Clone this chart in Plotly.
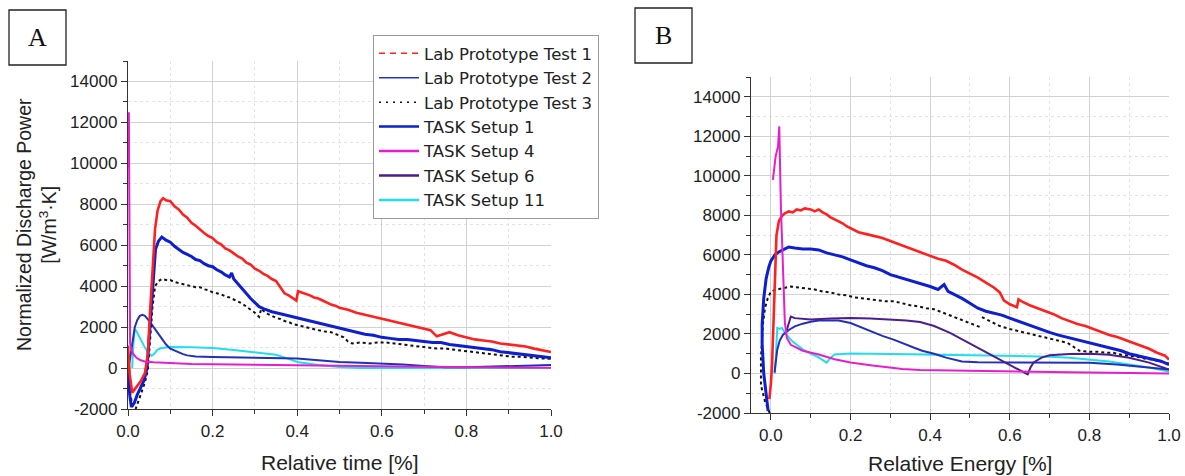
import plotly.graph_objects as go

# ---------------- data ----------------
# Panel A: x = relative time [-], y = normalized discharge power
lab1_time = [(0.0, 1100), (0.004, -300), (0.01, -1200), (0.02, -950), (0.03, -650), (0.04, -250),
             (0.047, 700), (0.052, 2700), (0.058, 5000), (0.064, 6800), (0.07, 7700), (0.077, 8150),
             (0.083, 8300), (0.09, 8200), (0.1, 8150), (0.11, 7900), (0.12, 7750), (0.13, 7500),
             (0.14, 7350), (0.15, 7100), (0.16, 6950), (0.17, 6750), (0.18, 6600), (0.19, 6450),
             (0.2, 6350), (0.21, 6150), (0.22, 6050), (0.23, 5850), (0.24, 5750), (0.25, 5600),
             (0.26, 5450), (0.27, 5350), (0.28, 5150), (0.29, 5050), (0.3, 4850), (0.31, 4750),
             (0.32, 4600), (0.33, 4500), (0.34, 4350), (0.35, 4250), (0.36, 3950), (0.37, 3650),
             (0.38, 3550), (0.39, 3400), (0.398, 3300), (0.402, 3750), (0.41, 3700), (0.42, 3600),
             (0.43, 3550), (0.44, 3450), (0.45, 3400), (0.46, 3300), (0.47, 3200), (0.48, 3100),
             (0.49, 3050), (0.5, 2950), (0.52, 2850), (0.54, 2700), (0.56, 2600), (0.58, 2500),
             (0.6, 2400), (0.62, 2300), (0.64, 2200), (0.66, 2100), (0.68, 2000), (0.7, 1900),
             (0.715, 1850), (0.73, 1550), (0.745, 1650), (0.76, 1750), (0.78, 1600), (0.8, 1500),
             (0.82, 1400), (0.84, 1350), (0.86, 1300), (0.88, 1200), (0.9, 1150), (0.92, 1100),
             (0.94, 1050), (0.96, 950), (0.98, 850), (1.0, 780)]
lab2_time = [(0.0, 0), (0.004, -1300), (0.008, -1900), (0.015, -1700), (0.022, -1300), (0.03, -950),
             (0.038, -600), (0.045, 0), (0.05, 1500), (0.055, 3200), (0.06, 4700), (0.065, 5800),
             (0.072, 6200), (0.08, 6400), (0.09, 6250), (0.1, 6150), (0.11, 5950), (0.12, 5800),
             (0.13, 5650), (0.14, 5550), (0.15, 5450), (0.16, 5300), (0.17, 5250), (0.18, 5100),
             (0.19, 5000), (0.2, 4950), (0.21, 4800), (0.22, 4700), (0.23, 4550), (0.24, 4450),
             (0.245, 4650), (0.25, 4350), (0.26, 4100), (0.27, 3850), (0.28, 3600), (0.29, 3400),
             (0.3, 3200), (0.31, 3000), (0.32, 2900), (0.34, 2750), (0.36, 2650), (0.38, 2550),
             (0.4, 2450), (0.42, 2350), (0.44, 2250), (0.46, 2150), (0.48, 2050), (0.5, 1950),
             (0.52, 1850), (0.54, 1750), (0.56, 1650), (0.58, 1600), (0.6, 1500), (0.62, 1450),
             (0.64, 1400), (0.66, 1400), (0.68, 1350), (0.7, 1300), (0.72, 1250), (0.74, 1250),
             (0.76, 1150), (0.78, 1100), (0.8, 1050), (0.82, 1000), (0.84, 950), (0.86, 900),
             (0.88, 800), (0.9, 750), (0.92, 700), (0.94, 650), (0.96, 600), (0.98, 550), (1.0, 500)]
lab3_time = [(0.0, 0), (0.005, -1200), (0.01, -1800), (0.018, -2000), (0.025, -1600), (0.032, -1200),
             (0.04, -700), (0.047, -100), (0.053, 1500), (0.058, 3000), (0.064, 4000), (0.072, 4250),
             (0.08, 4350), (0.09, 4300), (0.1, 4300), (0.11, 4200), (0.12, 4150), (0.13, 4100),
             (0.14, 4050), (0.15, 4000), (0.16, 3950), (0.17, 3950), (0.18, 3850), (0.19, 3800),
             (0.2, 3700), (0.21, 3650), (0.22, 3600), (0.23, 3500), (0.24, 3450), (0.25, 3350),
             (0.26, 3250), (0.27, 3150), (0.28, 3000), (0.29, 2850), (0.3, 2700), (0.31, 2500),
             (0.315, 2900), (0.32, 2800), (0.33, 2650), (0.34, 2550), (0.35, 2450), (0.36, 2400),
             (0.37, 2300), (0.38, 2250), (0.39, 2150), (0.4, 2100), (0.42, 2000), (0.44, 1900),
             (0.46, 1800), (0.48, 1750), (0.5, 1600), (0.51, 1500), (0.52, 1300), (0.53, 1200),
             (0.55, 1250), (0.57, 1200), (0.59, 1250), (0.61, 1250), (0.63, 1200), (0.65, 1150),
             (0.67, 1100), (0.69, 1050), (0.71, 1000), (0.73, 950), (0.75, 950), (0.77, 900),
             (0.79, 850), (0.81, 800), (0.83, 750), (0.85, 700), (0.87, 650), (0.89, 600),
             (0.91, 550), (0.93, 550), (0.95, 500), (0.97, 480), (1.0, 450)]
task1_time = [(0.0, -200), (0.005, 500), (0.01, 1300), (0.016, 2000), (0.022, 2350), (0.028, 2550),
              (0.034, 2600), (0.04, 2550), (0.05, 2300), (0.06, 2000), (0.07, 1700), (0.08, 1400),
              (0.09, 1150), (0.1, 950), (0.11, 850), (0.12, 760), (0.13, 680), (0.14, 620),
              (0.15, 580), (0.16, 560), (0.2, 540), (0.25, 530), (0.3, 520), (0.35, 500),
              (0.4, 470), (0.45, 380), (0.5, 300), (0.55, 260), (0.6, 230), (0.65, 170),
              (0.7, 100), (0.75, 40), (0.8, 40), (0.85, 60), (0.9, 90), (0.95, 120), (1.0, 150)]
task4_time = [(0.0, 9800), (0.002, 12500), (0.005, 1200), (0.008, 900), (0.012, 700), (0.02, 500),
              (0.03, 380), (0.04, 320), (0.06, 280), (0.1, 230), (0.15, 200), (0.2, 180),
              (0.3, 150), (0.4, 120), (0.5, 100), (0.6, 80), (0.7, 60), (0.8, 40), (0.9, 20), (1.0, 10)]
task11_time = [(0.01, 0), (0.012, 1000), (0.016, 1900), (0.02, 1800), (0.03, 1400), (0.04, 1000),
               (0.05, 700), (0.056, 600), (0.062, 700), (0.07, 900), (0.08, 980), (0.1, 1030),
               (0.15, 1020), (0.2, 980), (0.25, 880), (0.3, 760), (0.35, 650), (0.38, 450),
               (0.4, 300), (0.45, 150), (0.5, 50), (0.55, 0), (0.7, 0), (0.85, 0), (1.0, 0)]

# Panel B: x = relative energy [-]
lab1_energy = [(-0.004, -1300), (0.0, -500), (0.003, 500), (0.006, 2200), (0.01, 4800), (0.014, 7000),
               (0.02, 7700), (0.027, 7950), (0.035, 8100), (0.045, 8200), (0.055, 8150), (0.065, 8300),
               (0.075, 8250), (0.085, 8350), (0.1, 8300), (0.11, 8200), (0.12, 8300), (0.13, 8150),
               (0.14, 8050), (0.15, 7900), (0.16, 7800), (0.17, 7700), (0.18, 7600), (0.19, 7450),
               (0.2, 7350), (0.22, 7150), (0.24, 7050), (0.26, 6950), (0.28, 6850), (0.3, 6700),
               (0.32, 6550), (0.34, 6400), (0.36, 6250), (0.38, 6100), (0.4, 5950), (0.42, 5800),
               (0.44, 5700), (0.46, 5500), (0.48, 5250), (0.5, 5050), (0.52, 4850), (0.54, 4600),
               (0.56, 4350), (0.575, 4100), (0.585, 3700), (0.6, 3500), (0.61, 3400), (0.618, 3350),
               (0.622, 3750), (0.63, 3650), (0.65, 3450), (0.67, 3300), (0.69, 3150), (0.71, 3000),
               (0.73, 2800), (0.75, 2650), (0.77, 2500), (0.79, 2400), (0.81, 2250), (0.83, 2100),
               (0.85, 1950), (0.87, 1850), (0.89, 1700), (0.91, 1550), (0.93, 1400), (0.95, 1250),
               (0.97, 1050), (0.99, 900), (1.0, 700)]
lab2_energy = [(-0.007, -1900), (-0.012, -1000), (-0.018, 0), (-0.022, 1500), (-0.022, 2500),
               (-0.018, 3800), (-0.012, 4800), (-0.005, 5400), (0.0, 5700), (0.01, 6000), (0.02, 6150),
               (0.03, 6250), (0.045, 6400), (0.06, 6350), (0.08, 6300), (0.1, 6300), (0.12, 6250),
               (0.14, 6100), (0.16, 6000), (0.18, 5900), (0.2, 5750), (0.22, 5600), (0.24, 5450),
               (0.26, 5350), (0.28, 5200), (0.3, 5000), (0.32, 4880), (0.34, 4780), (0.36, 4650),
               (0.38, 4550), (0.4, 4400), (0.42, 4250), (0.435, 4500), (0.445, 4150), (0.46, 4000),
               (0.48, 3800), (0.5, 3550), (0.52, 3300), (0.54, 3150), (0.56, 3050), (0.58, 2950),
               (0.6, 2800), (0.62, 2650), (0.64, 2500), (0.66, 2350), (0.68, 2200), (0.7, 2080),
               (0.72, 1950), (0.74, 1850), (0.76, 1750), (0.78, 1650), (0.8, 1570), (0.82, 1450),
               (0.84, 1350), (0.86, 1250), (0.88, 1150), (0.9, 1000), (0.92, 900), (0.94, 820),
               (0.96, 720), (0.98, 620), (1.0, 450)]
lab3_energy = [(-0.003, -2000), (-0.015, -1400), (-0.025, -600), (-0.025, 800), (-0.02, 2500),
               (-0.015, 3300), (-0.008, 3800), (0.0, 4150), (0.015, 4250), (0.03, 4300), (0.05, 4400),
               (0.07, 4350), (0.09, 4300), (0.11, 4250), (0.13, 4150), (0.15, 4100), (0.17, 4000),
               (0.19, 3950), (0.21, 3850), (0.23, 3800), (0.25, 3750), (0.27, 3700), (0.29, 3650),
               (0.31, 3650), (0.33, 3550), (0.35, 3450), (0.37, 3400), (0.39, 3300), (0.41, 3250),
               (0.43, 3100), (0.45, 2950), (0.47, 2800), (0.49, 2650), (0.51, 2500), (0.525, 2350),
               (None, None),
               (0.53, 2850), (0.545, 2700), (0.56, 2550), (0.575, 2400), (0.6, 2250), (0.62, 2150),
               (0.64, 2050), (0.66, 1950), (0.68, 1850), (0.7, 1750), (0.72, 1650), (0.745, 1550),
               (0.76, 1350), (0.775, 1150), (0.8, 1100), (0.82, 1100), (0.84, 1050), (0.86, 1050),
               (0.88, 950), (0.9, 900), (0.92, 850), (0.94, 750), (0.96, 700), (0.98, 600), (1.0, 500)]
task1_energy = [(0.009, 40), (0.012, 700), (0.016, 1200), (0.022, 1650), (0.03, 1950), (0.045, 2200),
                (0.06, 2380), (0.08, 2520), (0.1, 2620), (0.12, 2680), (0.15, 2700), (0.17, 2680),
                (0.2, 2550), (0.23, 2300), (0.25, 2130), (0.28, 1900), (0.31, 1700), (0.335, 1520),
                (0.36, 1300), (0.38, 1150), (0.41, 1000), (0.44, 800), (0.48, 610), (0.52, 570),
                (0.575, 560), (0.65, 560), (0.745, 560), (0.8, 540), (0.87, 460), (0.93, 350), (1.0, 200)]
task4_energy = [(0.005, 9800), (0.012, 11000), (0.018, 11500), (0.021, 12500), (0.025, 8500),
                (0.028, 6500), (0.032, 4000), (0.035, 2600), (0.04, 1800), (0.05, 1450), (0.08, 1150),
                (0.12, 960), (0.16, 720), (0.2, 550), (0.25, 420), (0.29, 310), (0.33, 230),
                (0.375, 180), (0.45, 150), (0.55, 110), (0.65, 80), (0.75, 60), (0.85, 40),
                (0.95, 20), (1.0, 0)]
task6_energy = [(0.04, 2200), (0.045, 2600), (0.05, 2880), (0.06, 2800), (0.1, 2730), (0.15, 2780),
                (0.2, 2810), (0.25, 2780), (0.3, 2730), (0.34, 2680), (0.375, 2600), (0.41, 2400),
                (0.45, 2050), (0.495, 1570), (0.54, 1100), (0.575, 710), (0.61, 350), (0.645, -50),
                (0.652, 300), (0.66, 560), (0.68, 800), (0.7, 920), (0.75, 980), (0.8, 1000),
                (0.85, 950), (0.9, 800), (0.95, 550), (1.0, 200)]
task11_energy = [(0.01, 0), (0.013, 1200), (0.016, 2300), (0.022, 2250), (0.028, 2300), (0.035, 2050),
                 (0.045, 1800), (0.055, 1600), (0.065, 1450), (0.08, 1220), (0.1, 1000), (0.12, 810),
                 (0.14, 550), (0.15, 800), (0.16, 960), (0.2, 1010), (0.3, 990), (0.4, 960),
                 (0.5, 940), (0.6, 900), (0.7, 850), (0.75, 800), (0.8, 700), (0.85, 600),
                 (0.9, 450), (0.95, 300), (1.0, 100)]

series_names = ["Lab Prototype Test 1", "Lab Prototype Test 2", "Lab Prototype Test 3",
                "TASK Setup 1", "TASK Setup 4", "TASK Setup 6", "TASK Setup 11"]
y_ticks = [-2000, 0, 2000, 4000, 6000, 8000, 10000, 12000, 14000]
x_ticks = [0.0, 0.2, 0.4, 0.6, 0.8, 1.0]

# ---------------- styles ----------------
W, H = 1185, 476
FONT = "Liberation Sans, Arial, sans-serif"
C_RED = "#ff2020"
C_BLUE = "#0d1fcf"
C_BLACK = "#111111"
C_TASK1 = "#2330b8"
C_MAG = "#e61ecb"
C_PURP = "#4b1d8f"
C_CYAN = "#22dcf2"

styles = {
    "Lab Prototype Test 1": dict(color=C_RED, width=2.6, dash="solid"),
    "Lab Prototype Test 2": dict(color=C_BLUE, width=3.0, dash="solid"),
    "Lab Prototype Test 3": dict(color=C_BLACK, width=2.0, dash="dot"),
    "TASK Setup 1": dict(color=C_TASK1, width=2.0, dash="solid"),
    "TASK Setup 4": dict(color=C_MAG, width=2.0, dash="solid"),
    "TASK Setup 6": dict(color=C_PURP, width=2.0, dash="solid"),
    "TASK Setup 11": dict(color=C_CYAN, width=2.0, dash="solid"),
}
legend_styles = {
    "Lab Prototype Test 1": dict(color=C_RED, width=1.5, dash="6px,5px"),
    "Lab Prototype Test 2": dict(color="#2233dd", width=1.5, dash="solid"),
    "Lab Prototype Test 3": dict(color=C_BLACK, width=1.5, dash="2px,5px"),
    "TASK Setup 1": dict(color=C_BLUE, width=2.5, dash="solid"),
    "TASK Setup 4": dict(color=C_MAG, width=2.5, dash="solid"),
    "TASK Setup 6": dict(color=C_PURP, width=2.5, dash="solid"),
    "TASK Setup 11": dict(color=C_CYAN, width=2.5, dash="solid"),
}

fig = go.Figure()

def add(pairs, name, xa, ya):
    xs = [p[0] for p in pairs]
    ys = [p[1] for p in pairs]
    fig.add_trace(go.Scatter(x=xs, y=ys, mode="lines", line=styles[name], name=name,
                             showlegend=False, xaxis=xa, yaxis=ya, hoverinfo="skip",
                             connectgaps=False))

panelA = [(task11_time, "TASK Setup 11"), (task1_time, "TASK Setup 1"),
          (lab3_time, "Lab Prototype Test 3"), (lab2_time, "Lab Prototype Test 2"),
          (lab1_time, "Lab Prototype Test 1"), (task4_time, "TASK Setup 4")]
panelB = [(task11_energy, "TASK Setup 11"), (task1_energy, "TASK Setup 1"),
          (task6_energy, "TASK Setup 6"), (lab3_energy, "Lab Prototype Test 3"),
          (lab2_energy, "Lab Prototype Test 2"), (lab1_energy, "Lab Prototype Test 1"),
          (task4_energy, "TASK Setup 4")]
for pairs, name in panelA:
    add(pairs, name, "x", "y")
for pairs, name in panelB:
    add(pairs, name, "x2", "y2")

# legend entries
for name in series_names:
    fig.add_trace(go.Scatter(x=[None], y=[None], mode="lines", name=name,
                             line=legend_styles[name], xaxis="x", yaxis="y", showlegend=True))

grid = dict(showgrid=True, gridcolor="#d2d2d2", gridwidth=1)
common = dict(showline=True, linecolor="#333333", linewidth=1.4, ticks="outside", ticklen=6,
              tickcolor="#333333", tickwidth=1.2, zeroline=False, mirror=False, automargin=False,
              tickfont=dict(family=FONT, size=17, color="#222222"), **grid)

def xaxis(domain, rng, anchor):
    return dict(domain=domain, range=rng, anchor=anchor, tickmode="array", tickvals=x_ticks,
                ticktext=[f"{v:.1f}" for v in x_ticks],
                minor=dict(tickmode="linear", tick0=0, dtick=0.1, ticks="outside", ticklen=4,
                           tickcolor="#333333", showgrid=True, gridcolor="#e4e4e4", griddash="dot"),
                **common)

def yaxis(domain, anchor):
    return dict(domain=domain, range=[-2000, 15000], anchor=anchor, tickmode="array",
                tickvals=y_ticks, ticktext=[str(v) for v in y_ticks],
                minor=dict(tickmode="linear", tick0=0, dtick=1000, ticks="outside", ticklen=4,
                           tickcolor="#333333", showgrid=True, gridcolor="#e4e4e4", griddash="dot"),
                **common)

fig.update_layout(
    width=W, height=H, margin=dict(l=0, r=0, t=0, b=0, autoexpand=False), autosize=False,
    paper_bgcolor="white", plot_bgcolor="white",
    xaxis=xaxis([128 / W, 551 / W], [0, 1.0], "y"),
    yaxis=yaxis([1 - 409 / H, 1 - 61 / H], "x"),
    xaxis2=xaxis([751 / W, 1169 / W], [-0.05, 1.0], "y2"),
    yaxis2=yaxis([1 - 413 / H, 1 - 77 / H], "x2"),
    legend=dict(x=373 / W, y=1 - 35 / H, xanchor="left", yanchor="top",
                bgcolor="white", bordercolor="#9a9a9a", borderwidth=1,
                font=dict(family="DejaVu Sans, Liberation Sans, sans-serif", size=16.5,
                          color="#222222"),
                tracegroupgap=0, itemwidth=40),
    font=dict(family=FONT, color="#222222"),
)

annotations = [
    dict(text="Relative time [%]", x=340 / W, y=1 - 462 / H, xref="paper", yref="paper",
         xanchor="center", yanchor="middle",
         showarrow=False, font=dict(family=FONT, size=21, color="#222222")),
    dict(text="Relative Energy [%]", x=960 / W, y=1 - 463 / H, xref="paper", yref="paper",
         xanchor="center", yanchor="middle",
         showarrow=False, font=dict(family=FONT, size=21, color="#222222")),
    dict(text="Normalized Discharge Power<br>[W/m<sup>3</sup>·K]", x=36 / W, y=1 - 225 / H,
         xref="paper", yref="paper", showarrow=False, textangle=-90,
         xanchor="center", yanchor="middle",
         font=dict(family=FONT, size=19.5, color="#222222")),
    dict(text="A", x=37.5 / W, y=1 - 38 / H, xref="paper", yref="paper", showarrow=False,
         xanchor="center", yanchor="middle",
         font=dict(family="Liberation Serif, Times New Roman, serif", size=26, color="#111111")),
    dict(text="B", x=663.5 / W, y=1 - 36 / H, xref="paper", yref="paper", showarrow=False,
         xanchor="center", yanchor="middle",
         font=dict(family="Liberation Serif, Times New Roman, serif", size=26, color="#111111")),
]
fig.update_layout(annotations=annotations)
fig.update_layout(shapes=[
    dict(type="rect", xref="paper", yref="paper", x0=9 / W, x1=66 / W, y0=1 - 65 / H, y1=1 - 10 / H,
         line=dict(color="#222222", width=1.3), fillcolor="rgba(0,0,0,0)", layer="above"),
    dict(type="rect", xref="paper", yref="paper", x0=635 / W, x1=692 / W, y0=1 - 63 / H, y1=1 - 8 / H,
         line=dict(color="#222222", width=1.3), fillcolor="rgba(0,0,0,0)", layer="above"),
])

fig.write_html("out.html", config={"responsive": False, "displayModeBar": False},
               post_script="document.body.style.margin='0';document.body.style.overflow='hidden';")
